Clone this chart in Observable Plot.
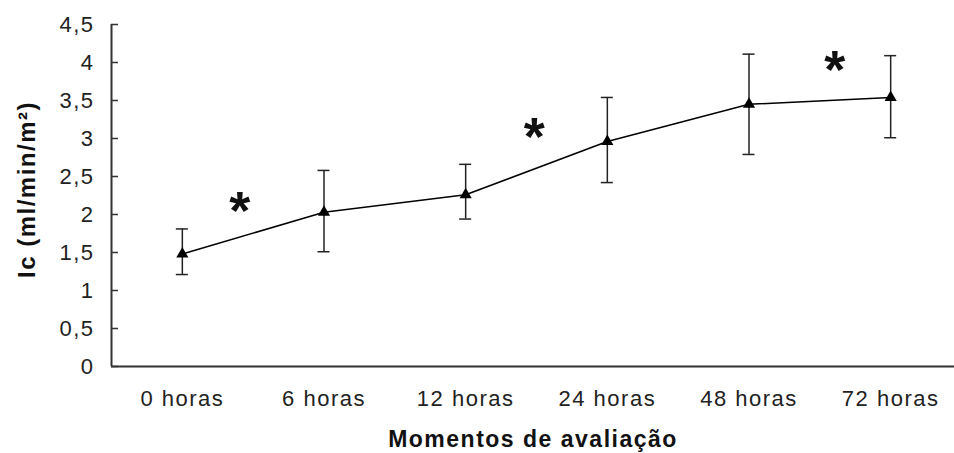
<!DOCTYPE html>
<html>
<head>
<meta charset="utf-8">
<script src="https://cdn.jsdelivr.net/npm/d3@7"></script>
<script src="https://cdn.jsdelivr.net/npm/@observablehq/plot@0.6"></script>
<style>
  html, body { margin: 0; padding: 0; background: white; overflow: hidden; }
</style>
</head>
<body>
<div id="chart"></div>
<script>
const categories = ["0 horas", "6 horas", "12 horas", "24 horas", "48 horas", "72 horas"];
const means = [1.48, 2.03, 2.26, 2.96, 3.45, 3.54];
const lows  = [1.21, 1.51, 1.94, 2.42, 2.79, 3.01];
const highs = [1.81, 2.58, 2.66, 3.54, 4.11, 4.09];
const yTicks = [0, 0.5, 1, 1.5, 2, 2.5, 3, 3.5, 4, 4.5];
// significance markers, between moments (x in category-index units)
const starX = [0.41, 2.49, 4.61];
const starY = [2.17, 3.14, 4.03];
const yTitle = "Ic (ml/min/m²)";
const xTitle = "Momentos de avaliação";

const data = categories.map((c, i) => ({i, c, mean: means[i], low: lows[i], high: highs[i]}));
const stars = starX.map((x, k) => ({x, y: starY[k]}));

const chart = Plot.plot({
  width: 954,
  height: 453,
  marginLeft: 111,
  marginRight: 0,
  marginTop: 24,
  marginBottom: 87,
  style: {fontFamily: "'Liberation Sans', Arial, sans-serif", background: "white", color: "#222", letterSpacing: "1.5px"},
  x: {type: "linear", domain: [-0.5, 5.5], range: [111, 961]},
  y: {domain: [0, 4.5], range: [366, 24]},
  marks: [
    Plot.axisY({ticks: yTicks, tickSize: 0, tickPadding: 17, tickFormat: d => String(d).replace(".", ","), fontSize: 22, label: null}),
    Plot.axisX({ticks: d3.range(categories.length), tickFormat: i => categories[i], tickSize: 0, tickPadding: 24, fontSize: 22, label: null}),
    // inward tick marks on the y axis
    Plot.ruleY(yTicks, {x1: -0.5, x2: -0.5, insetRight: -7, stroke: "#333", strokeWidth: 1.5}),
    Plot.ruleX([-0.5], {y1: 0, y2: 4.5, stroke: "#333", strokeWidth: 2}),
    Plot.ruleY([0], {stroke: "#333", strokeWidth: 2}),
    // error bars
    Plot.ruleX(data, {x: "i", y1: "low", y2: "high", stroke: "#222", strokeWidth: 1.5}),
    Plot.ruleY(data, {y: "high", x1: "i", x2: "i", insetLeft: -6, insetRight: -6, stroke: "#222", strokeWidth: 1.5}),
    Plot.ruleY(data, {y: "low", x1: "i", x2: "i", insetLeft: -6, insetRight: -6, stroke: "#222", strokeWidth: 1.5}),
    Plot.line(data, {x: "i", y: "mean", stroke: "black", strokeWidth: 1.5}),
    Plot.dot(data, {x: "i", y: "mean", symbol: "triangle", r: 4.5, fill: "black", stroke: null}),
    Plot.text(stars, {x: "x", y: "y", text: () => "*", fontSize: 54, fontWeight: "bold", fill: "#111", dy: 10}),
    Plot.text([yTitle], {text: d => d, frameAnchor: "left", textAnchor: "middle", rotate: -90, dx: -84, dy: -6, fontSize: 24, fontWeight: "bold", fill: "#111"}),
    Plot.text([xTitle], {text: d => d, frameAnchor: "bottom", lineAnchor: "middle", dy: 73, fontSize: 23, fontWeight: "bold", fill: "#111"})
  ]
});
document.getElementById("chart").appendChild(chart);
</script>
</body>
</html>
